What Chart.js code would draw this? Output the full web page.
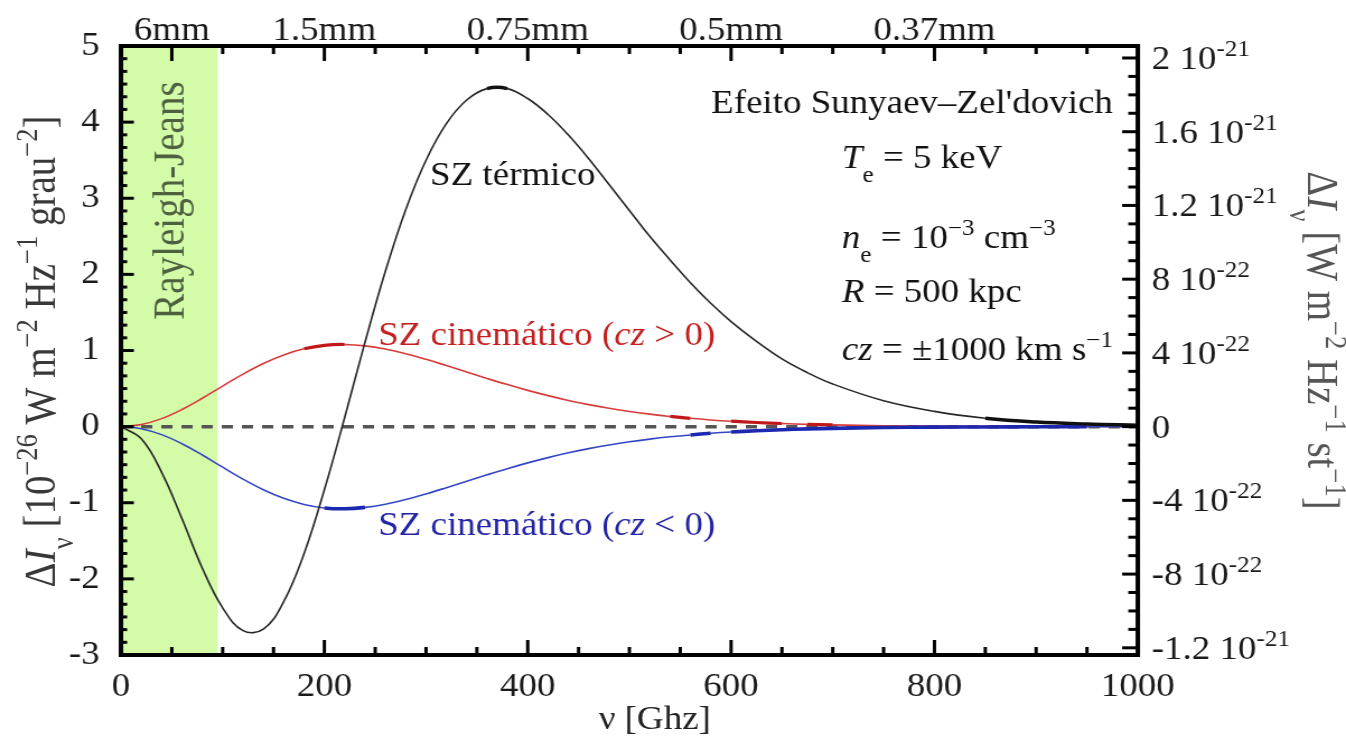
<!DOCTYPE html>
<html>
<head>
<meta charset="utf-8">
<title>Efeito Sunyaev–Zel'dovich</title>
<script src="https://cdn.jsdelivr.net/npm/chart.js@4.4.1/dist/chart.umd.min.js"></script>
<style>
  html, body { margin: 0; padding: 0; background: #fff; overflow: hidden; }
</style>
</head>
<body>
<canvas id="sz" style="display:block;width:1346px;height:738px"></canvas>
<script>
// Frequency grid (GHz)
const freqGHz = [0, 20, 40, 60, 80, 100, 120, 140, 160, 180, 200, 220, 240, 260, 280, 300, 320, 340, 360,
  380, 400, 420, 440, 460, 480, 500, 520, 540, 560, 580, 600, 625, 650, 675, 700, 750, 800, 850, 900, 950, 1000];

// Thermal SZ distortion, 10^-26 W m^-2 Hz^-1 deg^-2
const thermalSZ = [0, -0.16, -0.60, -1.21, -1.86, -2.38, -2.68, -2.66, -2.30, -1.67, -0.83, 0.12, 1.11, 2.04, 2.85, 3.50, 3.98, 4.29, 4.44,
  4.44, 4.31, 4.10, 3.83, 3.52, 3.18, 2.84, 2.50, 2.19, 1.89, 1.62, 1.38, 1.12, 0.89, 0.71, 0.56, 0.34, 0.20, 0.11, 0.06, 0.035, 0.02];

// Kinematic SZ, receding cluster (cz > 0)
const kinematicRecede = [0, 0.027, 0.105, 0.225, 0.373, 0.533, 0.690, 0.829, 0.942, 1.022, 1.068, 1.079, 1.061, 1.019, 0.958, 0.884, 0.802, 0.717, 0.633,
  0.552, 0.476, 0.407, 0.344, 0.289, 0.241, 0.199, 0.164, 0.134, 0.109, 0.088, 0.071, 0.054, 0.041, 0.030, 0.023, 0.012, 0.007, 0.004, 0.002, 0.001, 0.0005];

// Kinematic SZ, approaching cluster (cz < 0)
const kinematicApproach = [0, -0.027, -0.105, -0.225, -0.373, -0.533, -0.690, -0.829, -0.942, -1.022, -1.068, -1.079, -1.061, -1.019, -0.958, -0.884, -0.802, -0.717, -0.633,
  -0.552, -0.476, -0.407, -0.344, -0.289, -0.241, -0.199, -0.164, -0.134, -0.109, -0.088, -0.071, -0.054, -0.041, -0.030, -0.023, -0.012, -0.007, -0.004, -0.002, -0.001, -0.0005];

const freqTicks = [0, 200, 400, 600, 800, 1000];
const wavelengthTicks = [50, 200, 400, 600, 800];
const wavelengthLabels = ['6mm', '1.5mm', '0.75mm', '0.5mm', '0.37mm'];
const intensityTicks = [-3, -2, -1, 0, 1, 2, 3, 4, 5];
const perSrTicks = [-1.2e-21, -8e-22, -4e-22, 0, 4e-22, 8e-22, 1.2e-21, 1.6e-21, 2e-21];
const perSrLabels = ['-1.2 10^-21', '-8 10^-22', '-4 10^-22', '0', '4 10^-22', '8 10^-22', '1.2 10^-21', '1.6 10^-21', '2 10^-21'];
const rayleighJeansLimit = 95;   // GHz
const perSrPerUnit = 4.13e-22;   // one left-axis unit in W m^-2 Hz^-1 sr^-1

// The bitmap is drawn narrower and widened by CSS, giving the wide serif lettering.
const SX = 1.12;
const CW = Math.round(1346 / SX);
const CH = 738;

const SERIF = '"Liberation Serif", "Times New Roman", serif';
const fnt = (size, italic) => (italic ? 'italic ' : '') + size + 'px ' + SERIF;

function measureRuns(ctx, runs, F) {
  let w = 0;
  for (const r of runs) {
    ctx.font = fnt(r.sup || r.sub ? F * 0.68 : F, r.it);
    w += ctx.measureText(r.t).width;
  }
  return w;
}

function drawRuns(ctx, runs, x, y, F, align, color) {
  const w = measureRuns(ctx, runs, F);
  let cx = align === 'center' ? x - w / 2 : align === 'right' ? x - w : x;
  ctx.textAlign = 'left';
  ctx.textBaseline = 'alphabetic';
  for (const r of runs) {
    const small = r.sup || r.sub;
    ctx.font = fnt(small ? F * 0.68 : F, r.it);
    ctx.fillStyle = r.color || color;
    const dy = r.sup ? -0.40 * F : r.sub ? 0.42 * F : 0;
    ctx.fillText(r.t, cx, y + dy);
    cx += ctx.measureText(r.t).width;
  }
}

function supRuns(s) {
  const i = s.indexOf('^');
  return i < 0 ? [{t: s}] : [{t: s.slice(0, i)}, {t: s.slice(i + 1), sup: true}];
}

const leftTitle = [{t: 'Δ'}, {t: 'I', it: true}, {t: 'ν', sub: true}, {t: ' [10'}, {t: '−26', sup: true},
  {t: ' W m'}, {t: '−2', sup: true}, {t: ' Hz'}, {t: '−1', sup: true}, {t: ' grau'}, {t: '−2', sup: true}, {t: ']'}];
const rightTitle = [{t: 'Δ'}, {t: 'I', it: true}, {t: 'ν', sub: true}, {t: ' [W m'}, {t: '−2', sup: true},
  {t: ' Hz'}, {t: '−1', sup: true}, {t: ' st'}, {t: '−1', sup: true}, {t: ']'}];

const decor = {
  id: 'decor',
  beforeDatasetsDraw(chart) {
    const {ctx, chartArea: a, scales: {x, y}} = chart;
    const x0 = x.getPixelForValue(0), x1 = x.getPixelForValue(rayleighJeansLimit);
    ctx.save();
    ctx.fillStyle = '#d4fba8';
    ctx.fillRect(x0, a.top, x1 - x0, a.bottom - a.top);
    ctx.translate(x.getPixelForValue(62), y.getPixelForValue(2.97));
    ctx.rotate(-Math.PI / 2);
    ctx.font = fnt(39);
    ctx.fillStyle = '#4d6140';
    ctx.textAlign = 'center';
    ctx.textBaseline = 'alphabetic';
    ctx.fillText('Rayleigh-Jeans', 0, 0);
    ctx.restore();
  },
  afterDatasetsDraw(chart) {
    const {ctx, chartArea: a, scales: {x, y, y2}} = chart;
    ctx.save();
    ctx.strokeStyle = '#000';
    ctx.lineCap = 'butt';
    const seg = (x0, y0, x1, y1) => { ctx.beginPath(); ctx.moveTo(x0, y0); ctx.lineTo(x1, y1); ctx.stroke(); };
    ctx.lineWidth = 3;
    for (let v = 50; v < 1000; v += 50) {
      const px = x.getPixelForValue(v);
      seg(px, a.bottom, px, a.bottom - (v % 200 === 0 ? 15 : 8));
      seg(px, a.top, px, a.top + (wavelengthTicks.includes(v) ? 15 : 8));
    }
    for (let i = -17; i < 30; i++) {
      const py = y.getPixelForValue(i / 6);
      seg(a.left, py, a.left + (i % 6 === 0 ? 11.5 : 5.5), py);
    }
    for (let i = -12; i <= 20; i++) {
      const py = y2.getPixelForValue(i * 1e-22);
      seg(a.right, py, a.right - (i % 4 === 0 ? 14 : 8.5), py);
    }
    ctx.lineWidth = 4;
    ctx.strokeRect(a.left, a.top, a.right - a.left, a.bottom - a.top);

    // right-hand tick labels in W m^-2 Hz^-1 sr^-1
    perSrTicks.forEach((v, i) => {
      drawRuns(ctx, supRuns(perSrLabels[i]), a.right + 12.5, y2.getPixelForValue(v) + 11, 33, 'left', '#1a1a1a');
    });

    // axis titles
    ctx.save();
    ctx.translate(a.left - 59, (a.top + a.bottom) / 2 + 1);
    ctx.rotate(-Math.PI / 2);
    drawRuns(ctx, leftTitle, 0, 0, 39, 'center', '#383838');
    ctx.restore();

    ctx.save();
    ctx.translate(a.right + 152, (a.top + a.bottom) / 2 - 10);
    ctx.rotate(Math.PI / 2);
    drawRuns(ctx, rightTitle, 0, 0, 39, 'center', '#555');
    ctx.restore();

    drawRuns(ctx, [{t: 'ν [Ghz]'}], x.getPixelForValue(525), 729, 33, 'center', '#222');

    // curve labels
    drawRuns(ctx, [{t: 'SZ térmico'}], x.getPixelForValue(304), y.getPixelForValue(3.17), 33, 'left', '#111');
    drawRuns(ctx, [{t: 'SZ cinemático ('}, {t: 'cz', it: true}, {t: ' > 0)'}],
      x.getPixelForValue(253), y.getPixelForValue(1.07), 33, 'left', '#c41f1f');
    drawRuns(ctx, [{t: 'SZ cinemático ('}, {t: 'cz', it: true}, {t: ' < 0)'}],
      x.getPixelForValue(253), y.getPixelForValue(-1.42), 33, 'left', '#2424a6');

    // cluster parameters
    const ink = '#111';
    drawRuns(ctx, [{t: "Efeito Sunyaev–Zel'dovich"}], x.getPixelForValue(975.5), y.getPixelForValue(4.12), 33, 'right', ink);
    const px = x.getPixelForValue(709);
    drawRuns(ctx, [{t: 'T', it: true}, {t: 'e', sub: true}, {t: ' = 5 keV'}], px, y.getPixelForValue(3.40), 33, 'left', ink);
    drawRuns(ctx, [{t: 'n', it: true}, {t: 'e', sub: true}, {t: ' = 10'}, {t: '−3', sup: true}, {t: ' cm'}, {t: '−3', sup: true}],
      px, y.getPixelForValue(2.34), 33, 'left', ink);
    drawRuns(ctx, [{t: 'R', it: true}, {t: ' = 500 kpc'}], px, y.getPixelForValue(1.64), 33, 'left', ink);
    drawRuns(ctx, [{t: 'cz', it: true}, {t: ' = ±1000 km s'}, {t: '−1', sup: true}], px, y.getPixelForValue(0.876), 33, 'left', ink);
    ctx.restore();
  }
};

// Heavier stroke on the listed frequency stretches of a curve
const heavy = (ranges, width, color) => {
  const hit = c => ranges.some(([lo, hi]) => c.p0.parsed.x >= lo && c.p1.parsed.x <= hi);
  return {
    borderWidth: c => hit(c) ? width : undefined,
    borderColor: c => hit(c) ? color : undefined
  };
};

const toXY = vals => freqGHz.map((f, i) => ({x: f, y: vals[i]}));
const lineStyle = {pointRadius: 0, tension: 0.4, fill: false, xAxisID: 'x', yAxisID: 'y'};
const tickFont = {family: SERIF, size: 33, lineHeight: 1};

const canvas = document.getElementById('sz');
canvas.width = CW;
canvas.height = CH;

new Chart(canvas, {
  type: 'line',
  data: {
    datasets: [
      {...lineStyle, label: 'SZ térmico', order: 0, data: toXY(thermalSZ), borderColor: '#262626', borderWidth: 1.6,
        segment: heavy([[360, 380], [850, 1000]], 3.4, '#111')},
      {...lineStyle, label: 'SZ cinemático (cz > 0)', order: 2, data: toXY(kinematicRecede), borderColor: '#d93a3a', borderWidth: 1.6,
        segment: heavy([[180, 220], [540, 560], [600, 650], [675, 700]], 3.2, '#c01818')},
      {...lineStyle, label: 'SZ cinemático (cz < 0)', order: 1, data: toXY(kinematicApproach), borderColor: '#3446c4', borderWidth: 1.6,
        segment: heavy([[200, 240], [560, 580], [600, 950]], 3.6, '#1c28b0')},
      {...lineStyle, label: 'zero', order: 3, data: [{x: 0, y: 0}, {x: 1000, y: 0}], tension: 0,
        borderColor: '#555', borderWidth: 3.5, borderDash: [10, 8]}
    ]
  },
  options: {
    responsive: false,
    animation: false,
    devicePixelRatio: 1,
    events: [],
    layout: {padding: 0},
    plugins: {legend: {display: false}, tooltip: {enabled: false}},
    scales: {
      x: {
        type: 'linear', position: 'bottom', min: 0, max: 1000,
        grid: {display: false}, border: {display: false},
        afterBuildTicks: s => { s.ticks = freqTicks.map(v => ({value: v})); },
        afterFit: s => { s.height = CH - 655; },
        ticks: {font: tickFont, color: '#1a1a1a', padding: 7.5, maxRotation: 0, autoSkip: false, callback: v => String(v)}
      },
      x2: {
        type: 'linear', position: 'top', min: 0, max: 1000,
        grid: {display: false}, border: {display: false},
        afterBuildTicks: s => { s.ticks = wavelengthTicks.map(v => ({value: v})); },
        afterFit: s => { s.height = 46; },
        ticks: {font: tickFont, color: '#1a1a1a', padding: -10, maxRotation: 0, autoSkip: false,
          callback: (v, i) => wavelengthLabels[i]}
      },
      y: {
        type: 'linear', position: 'left', min: -3, max: 5,
        grid: {display: false}, border: {display: false},
        afterBuildTicks: s => { s.ticks = intensityTicks.map(v => ({value: v})); },
        afterFit: s => { s.width = 121 / SX; },
        ticks: {font: tickFont, color: '#1a1a1a', padding: 11, callback: v => String(v)}
      },
      y2: {
        type: 'linear', position: 'right', min: -3 * perSrPerUnit, max: 5 * perSrPerUnit,
        grid: {display: false}, border: {display: false},
        afterBuildTicks: s => { s.ticks = perSrTicks.map(v => ({value: v})); },
        afterFit: s => { s.width = CW - 1138 / SX; },
        ticks: {display: false}
      }
    }
  },
  plugins: [decor]
});
</script>
</body>
</html>
